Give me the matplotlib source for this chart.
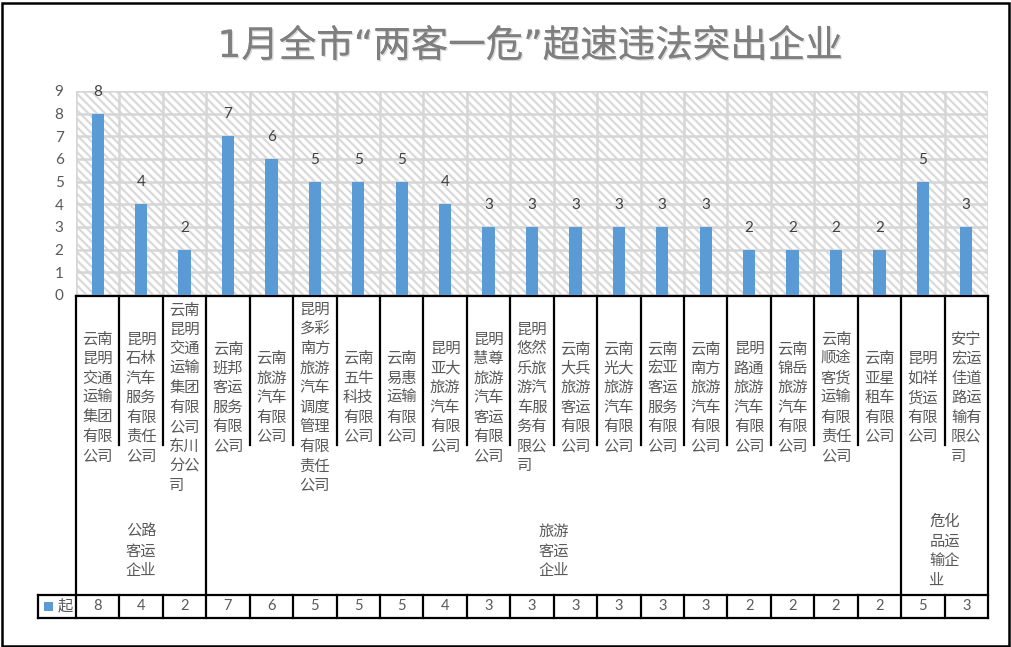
import matplotlib
matplotlib.use("Agg")
import matplotlib.pyplot as plt
from matplotlib.transforms import Affine2D, blended_transform_factory
from matplotlib.patches import Rectangle
import matplotlib.patheffects as pe

plt.rcParams['font.family'] = ['Noto Sans CJK SC', 'DejaVu Sans']
plt.rcParams['hatch.linewidth'] = 1.6
plt.rcParams['hatch.color'] = '#dadada'

title = "1月全市“两客一危”超速违法突出企业"
companies = [
    "云南昆明交通运输集团有限公司",
    "昆明石林汽车服务有限责任公司",
    "云南昆明交通运输集团有限公司东川分公司",
    "云南班邦客运服务有限公司",
    "云南旅游汽车有限公司",
    "昆明多彩南方旅游汽车调度管理有限责任公司",
    "云南五牛科技有限公司",
    "云南易惠运输有限公司",
    "昆明亚大旅游汽车有限公司",
    "昆明慧尊旅游汽车客运有限公司",
    "昆明悠然乐旅游汽车服务有限公司",
    "云南大兵旅游客运有限公司",
    "云南光大旅游汽车有限公司",
    "云南宏亚客运服务有限公司",
    "云南南方旅游汽车有限公司",
    "昆明路通旅游汽车有限公司",
    "云南锦岳旅游汽车有限公司",
    "云南顺途客货运输有限责任公司",
    "云南亚星租车有限公司",
    "昆明如祥货运有限公司",
    "安宁宏运佳道路运输有限公司",
]
values = [8, 4, 2, 7, 6, 5, 5, 5, 4, 3, 3, 3, 3, 3, 3, 2, 2, 2, 2, 5, 3]
groups = ["公路客运企业", "旅游客运企业", "危化品运输企业"]
group_sizes = [3, 16, 2]
series_name = "起"
yticks = list(range(0, 10))

W, H = 1011, 647
fig = plt.figure(figsize=(W / 100, H / 100), dpi=100)
L, R, T, B = 76, 988, 91, 295
ax = fig.add_axes([L / W, 1 - B / H, (R - L) / W, (B - T) / H])

n = len(values)
ax.set_xlim(-0.5, n - 0.5)
ax.set_ylim(0, 9)

# hatched background
bg = Rectangle((-0.5, 0), n, 9, facecolor='white', edgecolor='#dadada',
               hatch='\\\\\\\\', lw=0, zorder=0)
ax.add_patch(bg)

# gridlines
for y in yticks:
    ax.axhline(y, color='#d6d6d6', lw=1.8, zorder=1)
for i in range(n + 1):
    ax.axvline(i - 0.5, color='#d6d6d6', lw=1.8, zorder=1)

bars = ax.bar(range(n), values, width=0.28, color='#5b9bd5', zorder=3)
for i, v in enumerate(values):
    ax.annotate(str(v), (i, v), xytext=(0, 22), textcoords='offset pixels',
                ha='center', va='center', fontsize=11, color='#404040',
                family=['Lato', 'DejaVu Sans'])

ax.set_xticks([])
ax.set_yticks(yticks)
ax.set_yticklabels([str(t) for t in yticks], fontsize=11, color='#595959',
                   family=['Lato', 'DejaVu Sans'])
ax.tick_params(axis='y', length=0, pad=9)
for s in ax.spines.values():
    s.set_visible(False)

# pixel-y transform (origin top-left)
ypx = Affine2D().scale(1, -1).translate(0, H)
tr = blended_transform_factory(ax.transData, ypx)

def vline(x, y0, y1):
    ax.plot([x, x], [y0, y1], transform=tr, clip_on=False, color='black',
            lw=1.6, solid_capstyle='projecting')

def hline(x0, x1, y):
    ax.plot([x0, x1], [y, y], transform=tr, clip_on=False, color='black',
            lw=1.6, solid_capstyle='projecting')

# axis line
hline(-0.5, n - 0.5, 296)

# category dividers
bounds = [-0.5]
acc = -0.5
for g in group_sizes:
    acc += g
    bounds.append(acc)
for i in range(n + 1):
    x = i - 0.5
    if x in bounds:
        vline(x, 296, 618)
    else:
        vline(x, 296, 445)
        vline(x, 595, 618)

# data table lines
fig.add_artist(plt.Line2D([38, 38], [H - 595, H - 618], transform=None,
                          color='black', lw=1.6))
xleft = ax.transData.inverted().transform((38, 0))[0]
hline(xleft, n - 0.5, 595)
hline(xleft, n - 0.5, 618)

def split2(s):
    parts = [s[k:k + 2] for k in range(0, len(s), 2)]
    if len(parts[-1]) == 1:
        parts[-1] = parts[-1] + "\u3000"
    return parts

# company labels
pitch = 19.5
for i, name in enumerate(companies):
    lines = split2(name)
    m = len(lines)
    for k, ln in enumerate(lines):
        yy = 397.5 + (k - (m - 1) / 2) * pitch
        ax.text(i, yy, ln, transform=tr, ha='center', va='center',
                fontsize=11, color='#595959', clip_on=False)

# group labels
start = -0.5
for g, sz in zip(groups, group_sizes):
    cx = start + sz / 2
    start += sz
    lines = split2(g)
    m = len(lines)
    for k, ln in enumerate(lines):
        yy = 551 + (k - (m - 1) / 2) * 19.5
        ax.text(cx, yy, ln, transform=tr, ha='center', va='center',
                fontsize=11, color='#595959', clip_on=False)

# table values
for i, v in enumerate(values):
    ax.text(i, 606.5, str(v), transform=tr, ha='center', va='center',
            fontsize=10.5, color='#595959', clip_on=False,
            family=['Lato', 'DejaVu Sans'])

# legend key in table
fig.add_artist(Rectangle((44, H - 611), 9, 9, transform=None,
                         facecolor='#5b9bd5', edgecolor='none'))
fig.text(58 / W, 1 - 606 / H, series_name, ha='left', va='center',
         fontsize=11, color='#595959')

# title
fig.text(530 / W, 1 - 47 / H, title, ha='center', va='center', fontsize=27,
         color='#7f7f7f', family=['DejaVu Sans', 'Noto Sans CJK SC'],
         path_effects=[pe.withSimplePatchShadow(offset=(1, -1),
                                                shadow_rgbFace='#c0c0c0', alpha=0.6),
                       pe.Normal()])

# outer border
fig.add_artist(Rectangle((1.5, 1.5), W - 4, H - 4, transform=None,
                         facecolor='none', edgecolor='black', lw=1.8))

fig.savefig("out.png", dpi=100)
